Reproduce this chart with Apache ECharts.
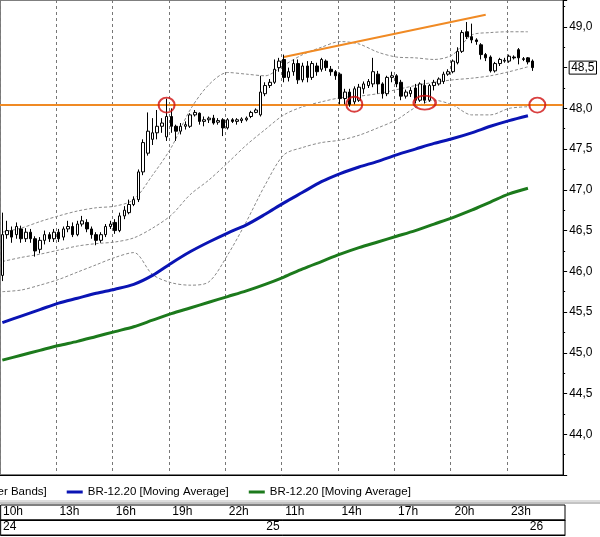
<!DOCTYPE html>
<html><head><meta charset="utf-8">
<script src="https://cdn.jsdelivr.net/npm/echarts@6/dist/echarts.min.js"></script>
<style>html,body{margin:0;padding:0;background:#fff}#c{width:600px;height:537px}</style>
</head><body><div id="c"></div>
<script>
// session structure: days and trading hours (15-min bars)
const days = [24, 25, 26];
const sessionHours = [10,11,12,13,14,15,16,17,18,19,20,21,22,23];
const day26Hours = [0, 1];
const quarters = ['00','15','30','45'];

// candles [open, close, low, high]
const candles = [
[45.95,46.45,45.88,46.72],[46.45,46.50,46.40,46.62],[46.50,46.42,46.35,46.55],[46.45,46.55,46.40,46.60],
[46.52,46.40,46.35,46.56],[46.40,46.48,46.36,46.53],[46.48,46.40,46.35,46.52],[46.40,46.25,46.18,46.43],
[46.27,46.38,46.22,46.42],[46.38,46.45,46.33,46.50],[46.45,46.40,46.36,46.48],[46.40,46.48,46.36,46.52],
[46.48,46.40,46.36,46.52],[46.42,46.52,46.38,46.55],[46.52,46.55,46.48,46.62],[46.55,46.45,46.42,46.60],
[46.45,46.58,46.43,46.62],[46.58,46.62,46.55,46.68],[46.60,46.52,46.48,46.64],[46.52,46.45,46.40,46.55],
[46.45,46.38,46.32,46.48],[46.38,46.45,46.35,46.48],[46.45,46.55,46.42,46.58],[46.55,46.58,46.52,46.62],
[46.60,46.50,46.46,46.64],[46.50,46.68,46.48,46.72],[46.68,46.75,46.64,46.80],[46.72,46.82,46.70,46.88],
[46.82,46.88,46.80,46.92],[46.88,47.22,46.85,47.25],[47.22,47.58,47.18,47.62],[47.45,47.72,47.42,47.95],
[47.62,47.70,47.55,47.88],[47.70,47.78,47.62,47.98],[47.78,47.82,47.70,47.88],[47.65,47.90,47.60,48.12],
[47.90,47.78,47.70,48.00],[47.78,47.72,47.60,47.80],[47.72,47.78,47.68,47.82],[47.78,47.80,47.74,47.84],
[47.78,47.92,47.76,47.94],[47.92,47.95,47.90,47.98],[47.94,47.84,47.80,47.95],[47.84,47.86,47.78,47.90],
[47.86,47.88,47.82,47.90],[47.88,47.82,47.80,47.92],[47.83,47.85,47.80,47.88],[47.86,47.76,47.66,47.88],
[47.76,47.86,47.74,47.88],[47.86,47.84,47.82,47.88],[47.84,47.86,47.80,47.88],[47.85,47.87,47.82,47.89],
[47.86,47.88,47.84,47.90],[47.90,47.95,47.88,47.97],[47.95,47.98,47.94,48.00],[47.92,48.20,47.90,48.40],
[48.18,48.28,48.15,48.32],[48.28,48.32,48.25,48.36],[48.32,48.48,48.30,48.60],[48.50,48.58,48.45,48.62],
[48.60,48.38,48.32,48.66],[48.38,48.45,48.33,48.50],[48.45,48.55,48.40,48.60],[48.55,48.35,48.30,48.60],
[48.35,48.52,48.32,48.56],[48.52,48.38,48.32,48.58],[48.38,48.55,48.35,48.58],[48.52,48.45,48.40,48.56],
[48.48,48.60,48.45,48.62],[48.58,48.50,48.46,48.60],[48.48,48.45,48.40,48.52],[48.45,48.40,48.35,48.47],
[48.42,48.12,48.05,48.44],[48.12,48.20,48.05,48.24],[48.20,48.05,48.02,48.24],[48.08,48.24,48.05,48.27],
[48.10,48.26,48.08,48.30],[48.24,48.30,48.18,48.33],[48.28,48.33,48.25,48.36],[48.30,48.45,48.26,48.62],
[48.42,48.30,48.18,48.46],[48.30,48.18,48.12,48.32],[48.18,48.38,48.15,48.40],[48.38,48.40,48.32,48.45],
[48.40,48.30,48.26,48.42],[48.32,48.15,48.10,48.35],[48.15,48.20,48.12,48.23],[48.18,48.22,48.14,48.26],
[48.25,48.10,48.06,48.30],[48.10,48.30,48.08,48.32],[48.28,48.10,48.06,48.35],[48.10,48.28,48.08,48.30],
[48.28,48.32,48.22,48.35],[48.30,48.36,48.28,48.38],[48.33,48.42,48.30,48.45],[48.42,48.45,48.40,48.48],
[48.45,48.58,48.43,48.60],[48.56,48.70,48.54,48.75],[48.70,48.93,48.68,48.96],[48.94,48.88,48.85,49.06],
[48.88,48.84,48.80,49.04],[48.84,48.82,48.78,48.86],[48.78,48.66,48.60,48.80],[48.66,48.62,48.58,48.68],
[48.63,48.46,48.44,48.65],[48.46,48.55,48.44,48.57],[48.55,48.60,48.52,48.62],[48.58,48.59,48.56,48.62],
[48.58,48.64,48.56,48.66],[48.63,48.62,48.60,48.65],[48.72,48.62,48.54,48.74],[48.60,48.61,48.58,48.63],
[48.62,48.57,48.54,48.63],[48.58,48.50,48.46,48.60]
];

// hourly readings (every 4th bar)
const bbUpper = [46.48,46.53,46.61,46.68,46.74,46.78,46.80,46.88,47.18,47.52,47.98,48.29,48.44,48.42,48.40,48.53,48.66,48.75,48.82,48.79,48.69,48.63,48.62,48.60,48.66,48.90,48.93,48.94,48.94];
const bbMiddle = [46.12,46.17,46.21,46.26,46.31,46.34,46.36,46.41,46.53,46.69,46.94,47.12,47.33,47.55,47.74,47.92,48.02,48.08,48.13,48.15,48.18,48.23,48.28,48.32,48.35,48.37,48.40,48.45,48.51];
const bbLower = [45.75,45.77,45.83,45.90,45.99,46.08,46.17,46.23,45.96,45.86,45.83,45.87,46.20,46.61,47.06,47.43,47.52,47.58,47.61,47.67,47.76,47.86,48.01,48.10,48.04,47.92,47.92,48.00,48.02];
const maBlue = [45.37,45.45,45.53,45.61,45.67,45.73,45.78,45.84,45.95,46.10,46.24,46.36,46.47,46.57,46.70,46.84,46.97,47.10,47.20,47.28,47.35,47.43,47.50,47.57,47.63,47.70,47.78,47.85,47.91];
const maGreen = [44.91,44.97,45.03,45.09,45.14,45.20,45.26,45.32,45.40,45.48,45.55,45.62,45.69,45.76,45.84,45.93,46.03,46.12,46.21,46.29,46.36,46.43,46.50,46.58,46.66,46.75,46.85,46.95,47.02];

const supportLevel = 48.04;
const trendLine = [[60, 48.63], [103, 49.15]];
const circles = [[35, 48.04], [75, 48.05], [90, 48.07], [114, 48.04]];
const yTicks = ['44,0','44,5','45,0','45,5','46,0','46,5','47,0','47,5','48,0','48,5','49,0'];

// categories
const cats = [];
for (const d of [24, 25]) for (const h of sessionHours) for (const q of quarters) cats.push(d + ' ' + h + ':' + q);
for (const h of day26Hours) for (const q of quarters) cats.push('26 ' + h + ':' + q);

function expand(arr) { const o = new Array(cats.length).fill(null); arr.forEach((v, i) => { o[i * 4] = v; }); return o; }

const chart = echarts.init(document.getElementById('c'), null, {renderer: 'canvas'});
const font = 'Liberation Sans, Arial, sans-serif';
const hourTick = (i) => i % 12 === 0;
const dayTick = (i) => i % 56 === 0;

const bandStyle = {type: 'line', showSymbol: false, connectNulls: true, smooth: 0.3, xAxisIndex: 0, yAxisIndex: 0,
  lineStyle: {color: '#8a8a8a', width: 1, type: [3, 2]}, itemStyle: {color: '#8a8a8a'}, z: 2, silent: true};

chart.setOption({
  animation: false,
  backgroundColor: '#fff',
  textStyle: {fontFamily: font},
  legend: {
    left: -118, top: 481, itemWidth: 16, itemHeight: 3, itemGap: 20,
    textStyle: {fontSize: 11.5, color: '#000', fontFamily: font},
    data: [
      {name: 'BR-12.20 [Bollinger Bands]', icon: 'rect'},
      {name: 'BR-12.20 [Moving Average]', icon: 'rect'},
      {name: 'BR-12.20 [Moving Average] ', icon: 'rect'}
    ]
  },
  grid: [
    {left: 0, right: 35, top: 0, height: 475, show: true, borderColor: '#000', borderWidth: 1},
    {left: 0, right: 35, top: 505, height: 15, show: true, borderColor: '#000', borderWidth: 1},
    {left: 0, right: 35, top: 520, height: 15, show: true, borderColor: '#000', borderWidth: 1}
  ],
  graphic: [
    {type: 'line', shape: {x1: 0, y1: 501, x2: 600, y2: 501}, style: {stroke: '#bbb', lineWidth: 1}},
    {type: 'line', shape: {x1: 0, y1: 503, x2: 600, y2: 503}, style: {stroke: '#888', lineWidth: 1}}
  ],
  xAxis: [
    {type: 'category', data: cats, gridIndex: 0, boundaryGap: true,
      axisLine: {lineStyle: {color: '#000'}}, axisLabel: {show: false},
      axisTick: {interval: hourTick, length: 4, inside: true, lineStyle: {color: '#000'}},
      splitLine: {show: true, interval: hourTick, lineStyle: {color: '#777', type: [3, 3]}}},
    {type: 'category', data: cats, gridIndex: 1, position: 'top', boundaryGap: true,
      axisLine: {lineStyle: {color: '#000'}},
      axisTick: {interval: hourTick, length: 15, inside: true, lineStyle: {color: '#000'}},
      axisLabel: {inside: true, interval: hourTick, align: 'left', margin: 1, fontSize: 12, color: '#000',
        verticalAlign: 'top', formatter: v => v.split(' ')[1].split(':')[0] + 'h'}},
    {type: 'category', data: cats, gridIndex: 2, position: 'top', boundaryGap: true,
      axisLine: {lineStyle: {color: '#000'}},
      axisTick: {interval: dayTick, length: 15, inside: true, lineStyle: {color: '#000'}},
      axisLabel: {inside: true, interval: dayTick, align: 'left', margin: 1, fontSize: 12, color: '#000',
        verticalAlign: 'top', formatter: v => v.split(' ')[0]}}
  ],
  yAxis: [
    {type: 'value', gridIndex: 0, position: 'right', min: 43.5, max: 49.33, interval: 0.5,
      axisLine: {show: true, lineStyle: {color: '#000'}}, axisTick: {show: true, length: 4, lineStyle: {color: '#000'}},
      minorTick: {show: true, splitNumber: 2, length: 2, lineStyle: {color: '#000'}},
      splitLine: {show: false},
      axisLabel: {margin: 6, fontSize: 12, color: '#000',
        formatter: v => { const s = v.toFixed(1).replace('.', ','); if (!yTicks.includes(s)) return ''; return s === '48,5' ? '{b|' + s + '}' : s; },
        rich: {b: {borderColor: '#000', borderWidth: 1, padding: [1, 2, 0, 2], fontSize: 12, color: '#000'}}}},
    {type: 'value', gridIndex: 1, show: false}, {type: 'value', gridIndex: 2, show: false}
  ],
  series: [
    Object.assign({name: 'BR-12.20 [Bollinger Bands]', data: expand(bbUpper)}, bandStyle),
    Object.assign({name: 'BR-12.20 [Bollinger Bands]', data: expand(bbMiddle)}, bandStyle),
    Object.assign({name: 'BR-12.20 [Bollinger Bands]', data: expand(bbLower)}, bandStyle),
    {name: 'BR-12.20 [Moving Average]', type: 'line', data: expand(maBlue), connectNulls: true, smooth: 0.3, showSymbol: false,
      lineStyle: {color: '#0a14b4', width: 3}, itemStyle: {color: '#0a14b4'}, z: 3},
    {name: 'BR-12.20 [Moving Average] ', type: 'line', data: expand(maGreen), connectNulls: true, smooth: 0.3, showSymbol: false,
      lineStyle: {color: '#1c7a1c', width: 3}, itemStyle: {color: '#1c7a1c'}, z: 3},
    {name: 'price', type: 'candlestick', data: candles, barWidth: 3, z: 5,
      itemStyle: {color: '#fff', color0: '#000', borderColor: '#000', borderColor0: '#000', borderWidth: 1},
      markLine: {silent: true, symbol: 'none', label: {show: false}, animation: false,
        lineStyle: {color: '#f08a24', width: 2, type: 'solid'},
        data: [{yAxis: supportLevel}, [{coord: trendLine[0]}, {coord: trendLine[1]}]]}},
    {name: 'circles', type: 'scatter', data: circles, z: 6, symbolSize: (v, p) => p.dataIndex === 2 ? [22, 14] : [16, 15],
      itemStyle: {color: 'rgba(0,0,0,0)', borderColor: '#d01010', borderWidth: 2}}
  ]
});
</script></body></html>
